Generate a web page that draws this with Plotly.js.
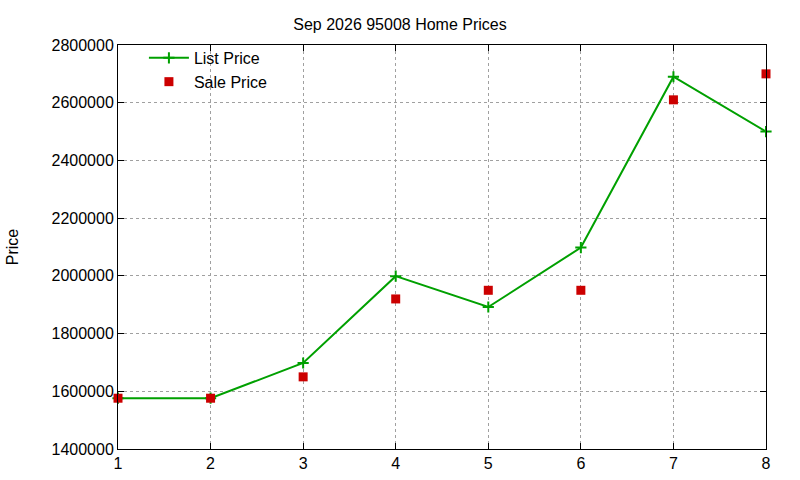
<!DOCTYPE html>
<html>
<head>
<meta charset="utf-8">
<script src="https://cdn.plot.ly/plotly-3.0.1.min.js"></script>
<style>
  body { margin: 0; background: #fff; }
  #chart { width: 800px; height: 480px; }
</style>
</head>
<body>
<div id="chart"></div>
<script>
// month index along x
var months = [1, 2, 3, 4, 5, 6, 7, 8];
var listPrice = [1576000, 1576000, 1698000, 1999000, 1892000, 2098000, 2690000, 2500000];
var salePrice = [1576000, 1576000, 1650000, 1920000, 1950000, 1950000, 2610000, 2700000];
var yTicks = [1400000, 1600000, 1800000, 2000000, 2200000, 2400000, 2600000, 2800000];

var listTrace = {
  x: months,
  y: listPrice,
  name: "List Price",
  type: "scatter",
  mode: "lines+markers",
  line: { color: "#00a000", width: 2 },
  marker: { symbol: "cross-thin-open", size: 8, color: "#00a000", line: { color: "#00a000", width: 2 } },
  cliponaxis: false,
};

var saleTrace = {
  x: months,
  y: salePrice,
  name: "Sale Price",
  type: "scatter",
  mode: "markers",
  marker: { symbol: "square", size: 9, color: "#cc0000" },
  cliponaxis: false,
};

var gridAxis = {
  showgrid: true,
  gridcolor: "#a0a0a0",
  griddash: "dot",
  gridwidth: 1,
  showline: true,
  mirror: "allticks",
  linecolor: "#000",
  linewidth: 1,
  ticks: "inside",
  ticklen: 6,
  tickcolor: "#000",
  zeroline: false,
  tickfont: { family: "Liberation Sans, Arial, sans-serif", size: 16, color: "#000" },
};

var layout = {
  width: 800,
  height: 480,
  margin: { l: 118, r: 34, t: 45, b: 31 },
  paper_bgcolor: "#fff",
  plot_bgcolor: "#fff",
  title: {
    text: "Sep 2026 95008 Home Prices",
    x: 0.5,
    xanchor: "center",
    y: 0.96,
    font: { family: "Liberation Sans, Arial, sans-serif", size: 16, color: "#000" },
  },
  xaxis: Object.assign({}, gridAxis, {
    range: [1, 8],
    tickvals: months,
    ticktext: months.map(String),
  }),
  yaxis: Object.assign({}, gridAxis, {
    range: [1400000, 2800000],
    tickvals: yTicks,
    ticktext: yTicks.map(String),
    title: { text: "Price", font: { family: "Liberation Sans, Arial, sans-serif", size: 16, color: "#000" }, standoff: 28 },
  }),
  showlegend: true,
  legend: {
    x: 0.04,
    y: 1.01,
    xanchor: "left",
    yanchor: "top",
    bgcolor: "rgba(0,0,0,0)",
    font: { family: "Liberation Sans, Arial, sans-serif", size: 16, color: "#000" },
    tracegroupgap: 0,
    itemwidth: 40,
  },
};

var config = { responsive: false, displayModeBar: false };

Plotly.newPlot("chart", [listTrace, saleTrace], layout, config);
</script>
</body>
</html>
